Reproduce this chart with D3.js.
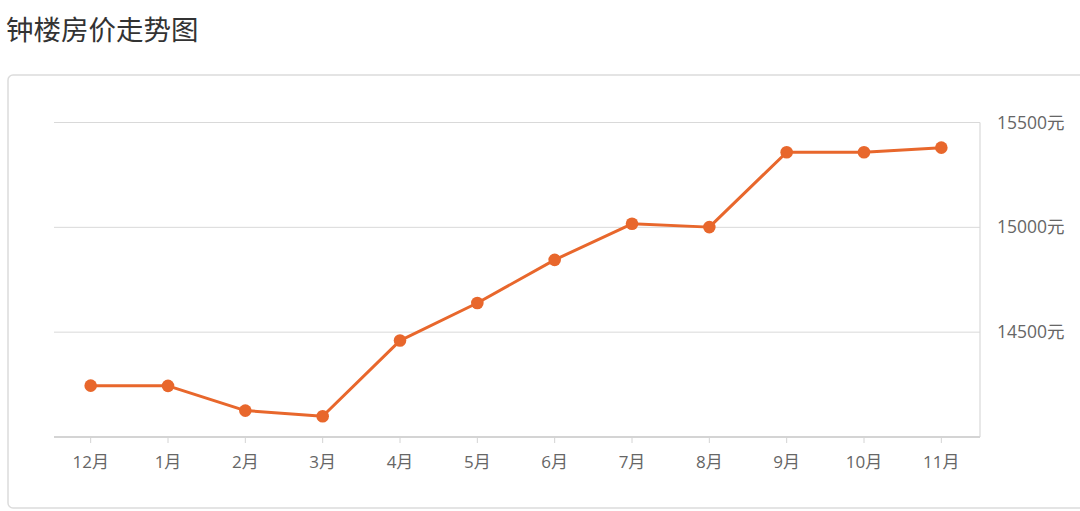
<!DOCTYPE html>
<html><head><meta charset="utf-8">
<script src="https://cdn.jsdelivr.net/npm/d3@7"></script>
<style>
html,body{margin:0;padding:0;background:#fff;}
svg{display:block;}
</style></head>
<body>
<script>
const title = "钟楼房价走势图";
const categories = ["12月","1月","2月","3月","4月","5月","6月","7月","8月","9月","10月","11月"];
const prices = [14245,14244,14126,14099,14460,14639,14845,15017,15001,15358,15358,15380];
const yTicks = [14500,15000,15500];
const yUnit = "元";

(function () {
const W = 1080, H = 511;
const svg = d3.select("body").append("svg").attr("width", W).attr("height", H);
const font = "'Open Sans','Noto Sans CJK SC',sans-serif";

svg.append("text").attr("x", 6).attr("y", 40)
  .attr("font-family", "'Noto Sans CJK SC',sans-serif").attr("font-size", 27.5)
  .attr("fill", "#333").text(title);

svg.append("rect").attr("x", 8).attr("y", 75).attr("width", 1090).attr("height", 433)
  .attr("rx", 5).attr("fill", "#fff").attr("stroke", "#dcdcdc").attr("stroke-width", 1.5);

const pLeft = 52, pRight = 980, pTop = 122.5, pBottom = 437;
const x = d3.scaleBand().domain(categories).range([pLeft, pRight]);
const y = d3.scaleLinear().domain([14000, 15500]).range([pBottom, pTop]);

svg.append("g").selectAll("line").data(yTicks).join("line")
  .attr("x1", 54).attr("x2", pRight).attr("y1", d => y(d)).attr("y2", d => y(d))
  .attr("stroke", "#d9d9d9").attr("stroke-width", 1);

svg.append("line").attr("x1", pRight).attr("x2", pRight).attr("y1", pTop).attr("y2", pBottom)
  .attr("stroke", "#d9d9d9").attr("stroke-width", 1.2);

svg.append("g").selectAll("text").data(yTicks).join("text")
  .attr("x", 997).attr("y", d => y(d)).attr("dy", "0.35em")
  .attr("font-family", font).attr("font-size", 17.5).attr("fill", "#666")
  .text(d => d + yUnit);

const xAxis = d3.axisBottom(x).tickSize(6).tickPadding(13);
const gx = svg.append("g").attr("transform", `translate(0,${pBottom})`).call(xAxis);
gx.select(".domain").attr("d", `M${pLeft + 2},0H${pRight}`).attr("stroke", "#d4d4d4").attr("stroke-width", 2);
gx.selectAll(".tick line").attr("stroke", "#d4d4d4").attr("stroke-width", 1);
gx.selectAll(".tick text").attr("font-family", font).attr("font-size", 17).attr("fill", "#666");

const cx = d => x(d) + x.bandwidth() / 2;
const color = "#E8672C";
const line = d3.line().x((d, i) => cx(categories[i])).y(d => y(d));
svg.append("path").datum(prices).attr("d", line)
  .attr("fill", "none").attr("stroke", color).attr("stroke-width", 3).attr("stroke-linejoin", "round");

svg.append("g").selectAll("circle").data(prices).join("circle")
  .attr("cx", (d, i) => cx(categories[i])).attr("cy", d => y(d)).attr("r", 6.3)
  .attr("fill", color);
})();
</script>
</body></html>
